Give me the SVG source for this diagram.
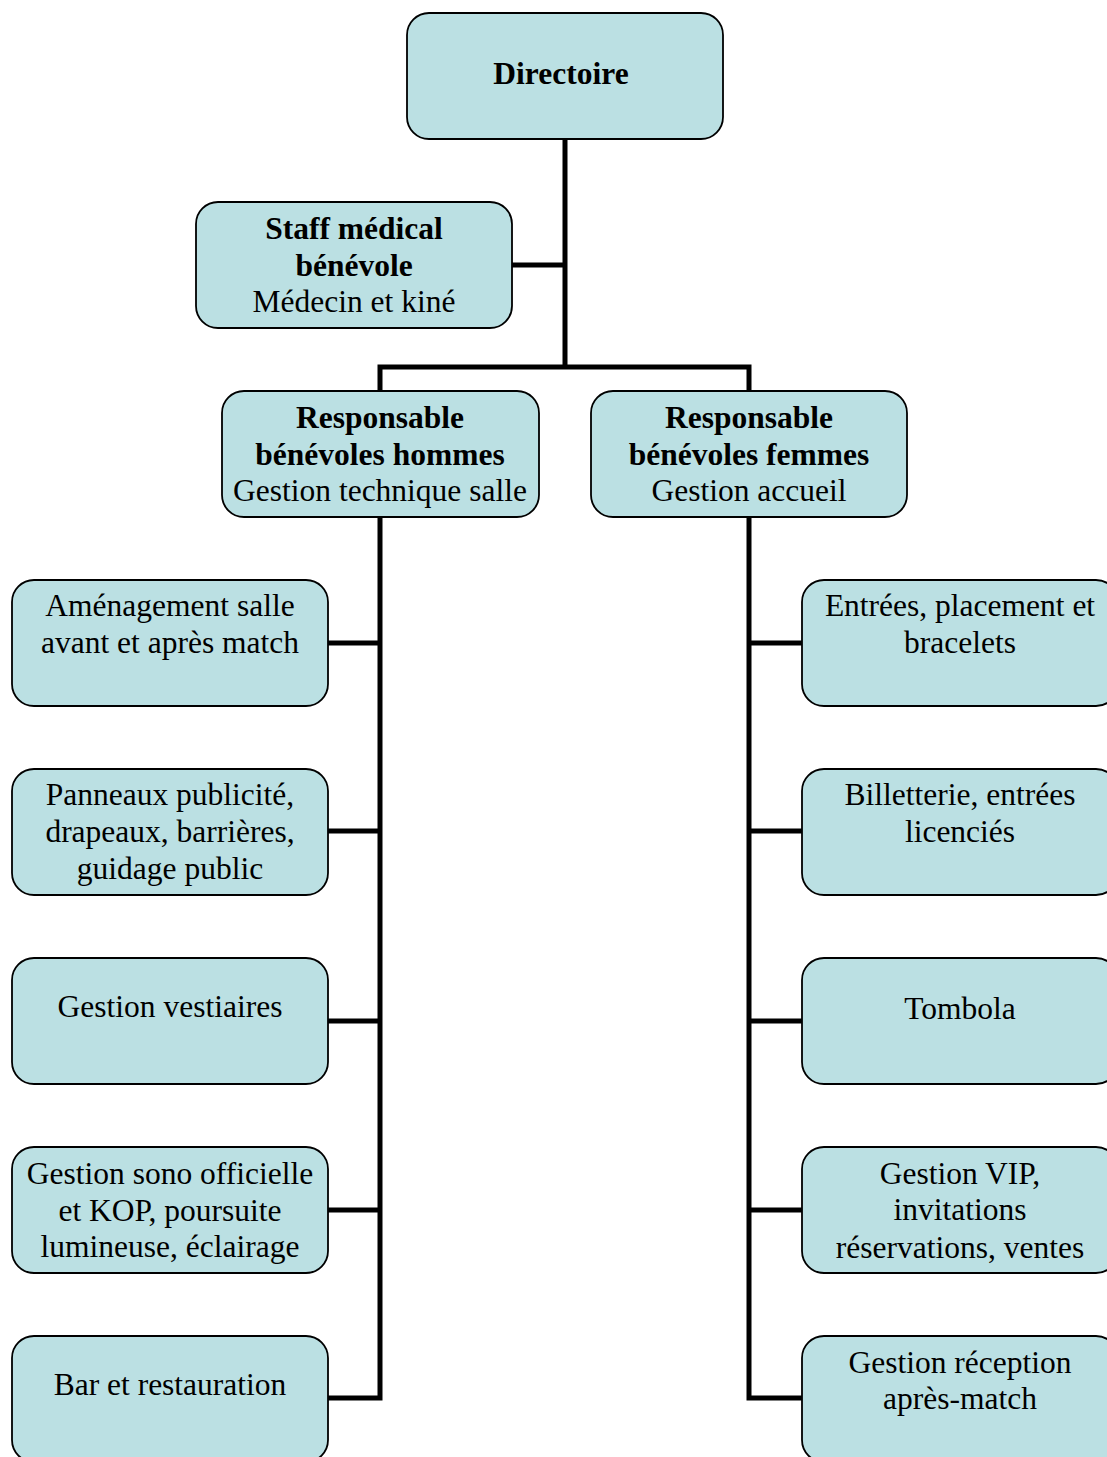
<svg xmlns="http://www.w3.org/2000/svg" width="1107" height="1457" viewBox="0 0 1107 1457">
<style>
.box{fill:#BBE0E3;stroke:#000;stroke-width:1.8}
.t{font-family:"Liberation Serif","Times New Roman",Times,serif;font-size:31.5px;fill:#000;text-anchor:middle}
.b{font-weight:bold}
.c{stroke:#000;stroke-width:5;fill:none}
</style>
<rect width="1107" height="1457" fill="#fff"/>
<g id="connectors">
<path class="c" d="M565 139V367M512 265H565M380 391V367H749V391"/>
<path class="c" d="M380 517V1398H328M328 643H380M328 831H380M328 1021H380M328 1210H380"/>
<path class="c" d="M749 517V1398H802M749 643H802M749 831H802M749 1021H802M749 1210H802"/>
</g>
<g id="directoire"><rect class="box" x="407" y="13" width="316" height="126" rx="22"/><text class="t b" x="561" y="84">Directoire</text></g>
<g id="staff"><rect class="box" x="196" y="202" width="316" height="126" rx="22"/><text class="t b" x="354" y="239">Staff médical</text><text class="t b" x="354" y="276">bénévole</text><text class="t" x="354" y="312">Médecin et kiné</text></g>
<g id="resp-hommes"><rect class="box" x="222" y="391" width="317" height="126" rx="22"/><text class="t b" x="380" y="428">Responsable</text><text class="t b" x="380" y="465">bénévoles hommes</text><text class="t" x="380" y="501">Gestion technique salle</text></g>
<g id="resp-femmes"><rect class="box" x="591" y="391" width="316" height="126" rx="22"/><text class="t b" x="749" y="428">Responsable</text><text class="t b" x="749" y="465">bénévoles femmes</text><text class="t" x="749" y="501">Gestion accueil</text></g>
<g id="amenagement"><rect class="box" x="12" y="580" width="316" height="126" rx="22"/><text class="t" x="170" y="616">Aménagement salle</text><text class="t" x="170" y="653">avant et après match</text></g>
<g id="panneaux"><rect class="box" x="12" y="769" width="316" height="126" rx="22"/><text class="t" x="170" y="805">Panneaux publicité,</text><text class="t" x="170" y="842">drapeaux, barrières,</text><text class="t" x="170" y="879">guidage public</text></g>
<g id="vestiaires"><rect class="box" x="12" y="958" width="316" height="126" rx="22"/><text class="t" x="170" y="1017">Gestion vestiaires</text></g>
<g id="sono"><rect class="box" x="12" y="1147" width="316" height="126" rx="22"/><text class="t" x="170" y="1184">Gestion sono officielle</text><text class="t" x="170" y="1221">et KOP, poursuite</text><text class="t" x="170" y="1257">lumineuse, éclairage</text></g>
<g id="bar"><rect class="box" x="12" y="1336" width="316" height="126" rx="22"/><text class="t" x="170" y="1395">Bar et restauration</text></g>
<g id="entrees"><rect class="box" x="802" y="580" width="316" height="126" rx="22"/><text class="t" x="960" y="616">Entrées, placement et</text><text class="t" x="960" y="653">bracelets</text></g>
<g id="billetterie"><rect class="box" x="802" y="769" width="316" height="126" rx="22"/><text class="t" x="960" y="805">Billetterie, entrées</text><text class="t" x="960" y="842">licenciés</text></g>
<g id="tombola"><rect class="box" x="802" y="958" width="316" height="126" rx="22"/><text class="t" x="960" y="1019">Tombola</text></g>
<g id="vip"><rect class="box" x="802" y="1147" width="316" height="126" rx="22"/><text class="t" x="960" y="1184">Gestion VIP,</text><text class="t" x="960" y="1220">invitations</text><text class="t" x="960" y="1258">réservations, ventes</text></g>
<g id="reception"><rect class="box" x="802" y="1336" width="316" height="126" rx="22"/><text class="t" x="960" y="1373">Gestion réception</text><text class="t" x="960" y="1409">après-match</text></g>
</svg>
